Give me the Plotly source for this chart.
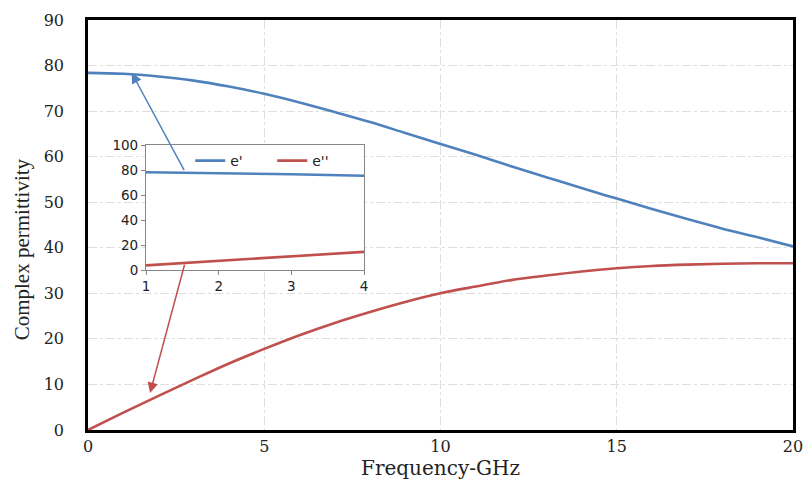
import plotly.graph_objects as go

freq = list(range(0, 21))
e_real = [78.4, 78.2, 77.6, 76.7, 75.4, 73.8, 71.9, 69.8, 67.6, 65.2, 62.8,
          60.4, 57.9, 55.5, 53.1, 50.8, 48.5, 46.3, 44.2, 42.3, 40.3]
e_imag = [0.0, 3.8, 7.5, 11.1, 14.6, 17.8, 20.8, 23.5, 25.9, 28.1, 30.0,
          31.5, 32.9, 33.9, 34.8, 35.5, 36.0, 36.3, 36.5, 36.6, 36.6]

inset_freq = freq[1:5]
inset_real = e_real[1:5]
inset_imag = e_imag[1:5]

BLUE = "#4F81BD"
RED = "#C0504D"
SERIF = "DejaVu Serif"
SERIF_V = "Liberation Serif"
SANS = "DejaVu Sans"

fig = go.Figure()
fig.add_trace(go.Scatter(x=freq, y=e_real, mode="lines", line=dict(color=BLUE, width=2.6, shape="spline"),
                         showlegend=False, xaxis="x", yaxis="y"))
fig.add_trace(go.Scatter(x=freq, y=e_imag, mode="lines", line=dict(color=RED, width=2.6, shape="spline"),
                         showlegend=False, xaxis="x", yaxis="y"))
fig.add_trace(go.Scatter(x=inset_freq, y=inset_real, mode="lines", name="e'",
                         line=dict(color=BLUE, width=2.6), xaxis="x2", yaxis="y2"))
fig.add_trace(go.Scatter(x=inset_freq, y=inset_imag, mode="lines", name="e''",
                         line=dict(color=RED, width=2.6), xaxis="x2", yaxis="y2"))

grid = dict(showgrid=True, gridcolor="#DEDEDE", griddash="dashdot", gridwidth=1)

fig.update_layout(
    width=803, height=483,
    margin=dict(l=88, r=10, t=20, b=53, autoexpand=False),
    paper_bgcolor="white", plot_bgcolor="white",
    xaxis=dict(domain=[0, 1], range=[0, 20], dtick=5, tick0=0, **grid,
               showline=True, linecolor="black", linewidth=2.5, mirror=True,
               ticks="", zeroline=False, automargin=False, ticklabeloverflow="allow",
               tickfont=dict(family=SERIF, size=16, color="#222"),
               title=dict(text="Frequency-GHz", font=dict(family=SERIF, size=20, color="#222"), standoff=0)),
    yaxis=dict(domain=[0, 1], range=[0, 90], dtick=10, tick0=0, **grid,
               showline=True, linecolor="black", linewidth=2.5, mirror=True,
               ticks="", zeroline=False, ticklabelstandoff=18, automargin=False,
               ticklabeloverflow="allow",
               tickfont=dict(family=SERIF, size=16, color="#222")),
    xaxis2=dict(domain=[0.0823, 0.3915], anchor="y2", range=[1, 4], dtick=1, tick0=1,
                showgrid=False, zeroline=False, showline=True, linecolor="#868686", linewidth=1.2,
                mirror=True, ticks="outside", ticklen=4, tickcolor="#868686",
                tickfont=dict(family=SANS, size=13.5, color="#222")),
    yaxis2=dict(domain=[0.390, 0.695], anchor="x2", range=[0, 100], dtick=20, tick0=0,
                showgrid=False, zeroline=False, showline=True, linecolor="#868686", linewidth=1.2,
                mirror=True, ticks="outside", ticklen=4, tickcolor="#868686",
                tickfont=dict(family=SANS, size=13.5, color="#222")),
    legend=dict(orientation="h", x=0.145, y=0.695, xanchor="left", yanchor="top",
                bgcolor="rgba(0,0,0,0)", font=dict(family=SANS, size=14, color="#222"),
                itemwidth=30, entrywidth=37, entrywidthmode="pixels", tracegroupgap=0),
    showlegend=True,
)

fig.add_annotation(text="Complex permittivity", xref="paper", yref="paper", x=-0.094, y=0.44,
                   textangle=-90, showarrow=False, xanchor="center", yanchor="middle",
                   font=dict(family=SERIF_V, size=21, color="#222"))

# arrows from inset to main curves (main data coordinates)
fig.add_annotation(x=1.24, y=78.4, ax=2.75, ay=56.7, xref="x", yref="y", axref="x", ayref="y",
                   text="", showarrow=True, arrowhead=2, arrowsize=1.4, arrowwidth=1.5, arrowcolor=BLUE)
fig.add_annotation(x=1.76, y=8.1, ax=2.75, ay=36.6, xref="x", yref="y", axref="x", ayref="y",
                   text="", showarrow=True, arrowhead=2, arrowsize=1.4, arrowwidth=1.5, arrowcolor=RED)

fig.write_html("out.html", config={"displayModeBar": False},
               post_script="document.body.style.margin='0';document.body.style.padding='0';")
